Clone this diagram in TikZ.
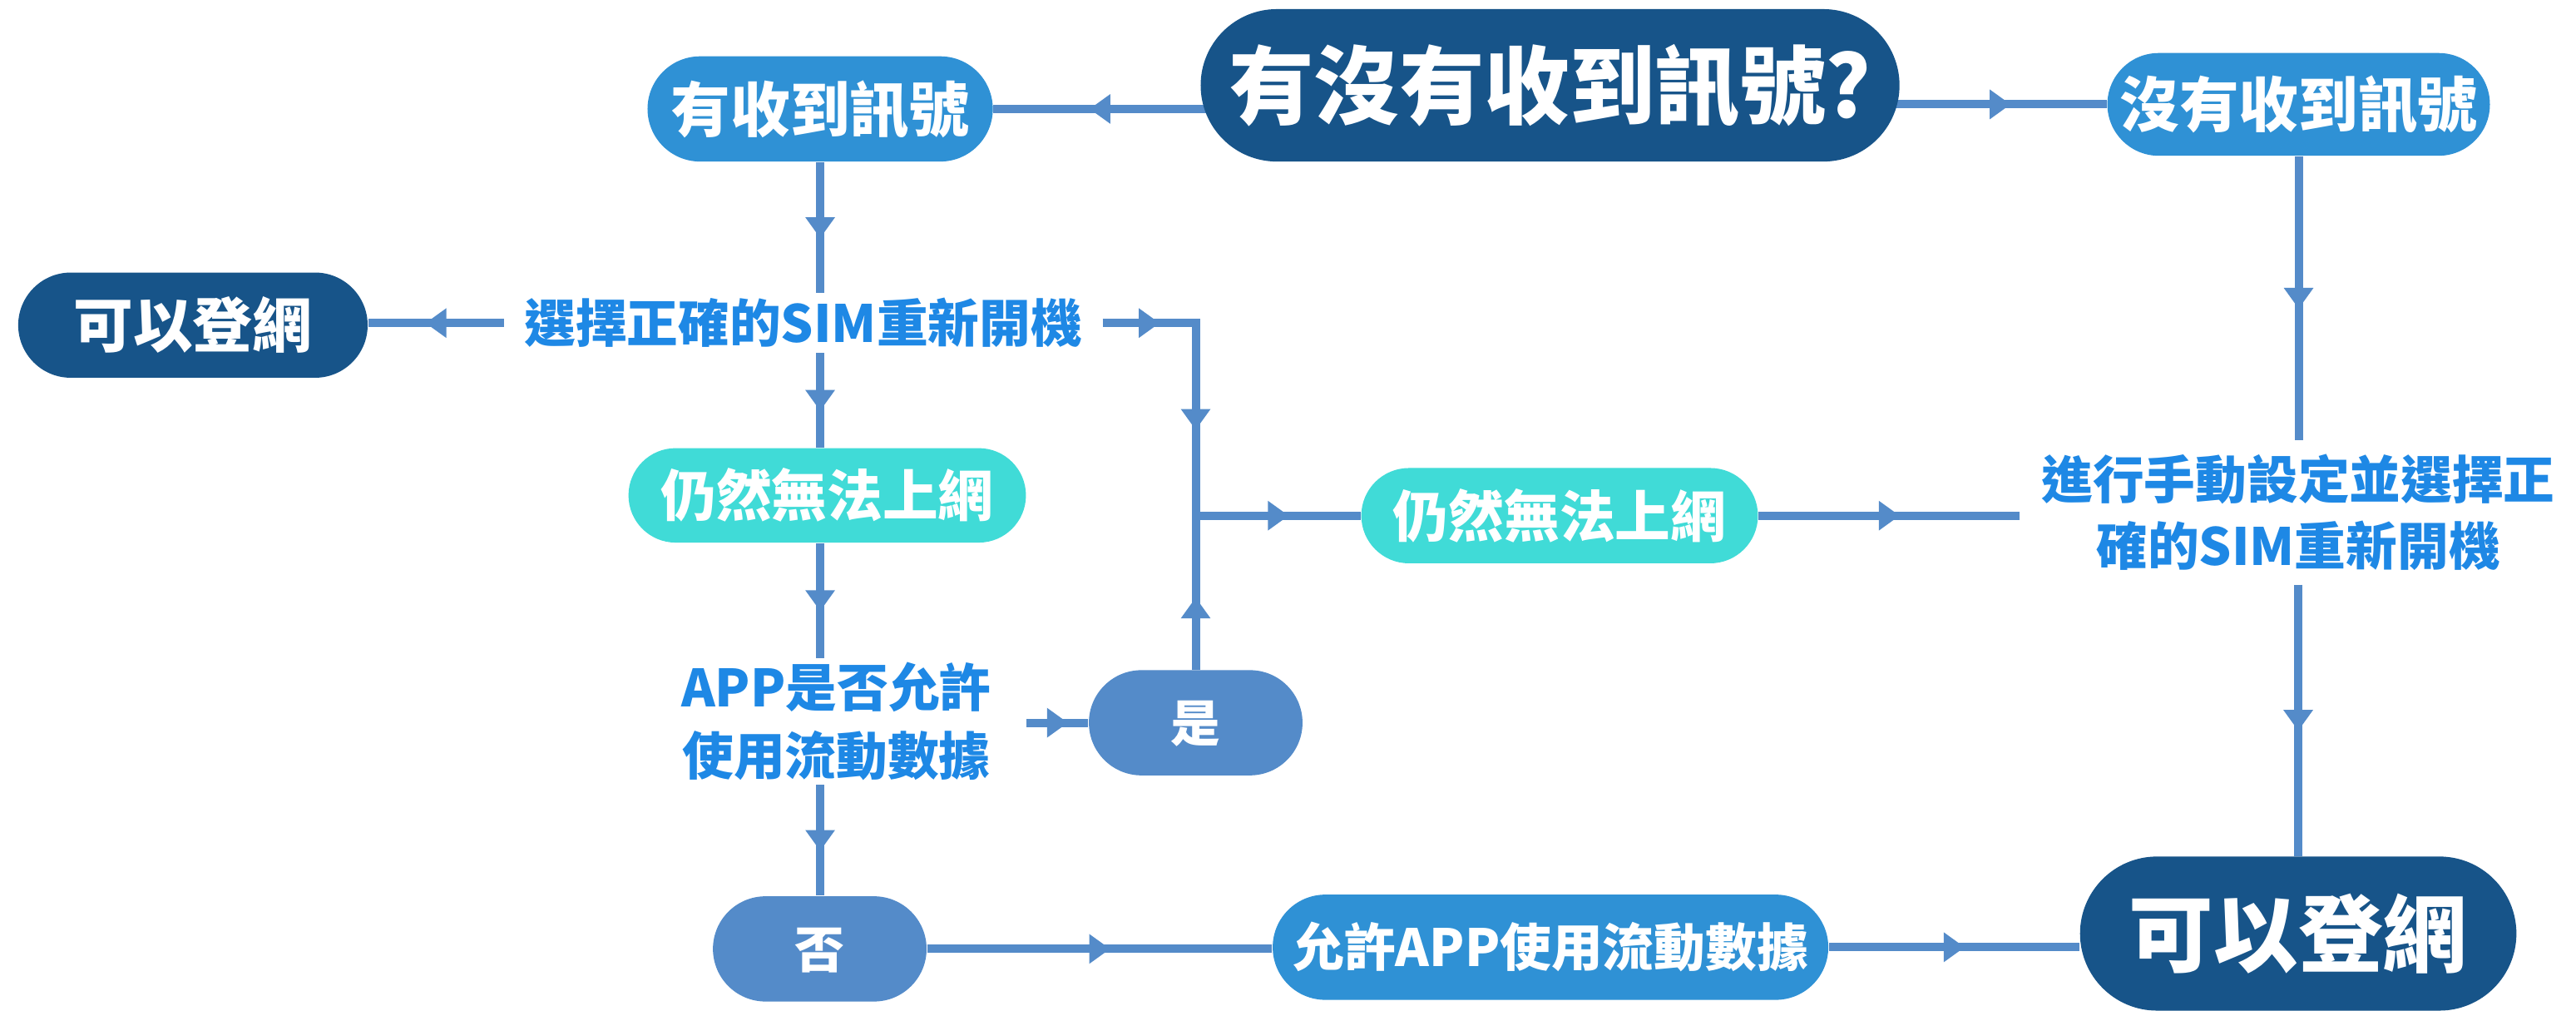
\documentclass[tikz,border=0pt]{standalone}
\usepackage{fontspec}
\newfontfamily\cjk{Noto Sans CJK TC}
\usetikzlibrary{calc,decorations.markings}
\newdimen\px \px=0.3pt
\newcommand\fs[2]{\fontsize{\the\dimexpr#1\px\relax}{\the\dimexpr#2\px\relax}\selectfont}
\definecolor{navy}{HTML}{175489}
\definecolor{midblue}{HTML}{2F91D5}
\definecolor{cyanbox}{HTML}{40DBD7}
\definecolor{steel}{HTML}{548BC9}
\definecolor{txtblue}{HTML}{1E88E5}
\pgfdeclarelayer{back}
\pgfdeclarelayer{bg}
\pgfsetlayers{back,bg,main}
\tikzset{
  pill/.style n args={3}{shape=rectangle, inner sep=0pt, minimum width=#1\px,
    minimum height=#2\px, rounded corners=#3\px, text=white},
  cjkline/.style={font=\cjk\bfseries\fs{#1}{#1}, text height=0.88*#1*0.3pt, text depth=0.12*#1*0.3pt},
  conn/.style={draw=steel, line width=10\px, line join=miter},
  midarrow/.style={postaction={decorate,decoration={markings,
    mark=at position #1 with {\fill[steel] (-12.5\px,-18\px) -- (12.5\px,0pt) -- (-12.5\px,18\px) -- cycle;}}}},
  midarrow/.default=0.5,
  bluetext/.style={text=txtblue, inner sep=0pt, align=center}
}
\begin{document}
\begin{tikzpicture}[x=0.3pt,y=-0.3pt]
\begin{pgfonlayer}{back}
\path[use as bounding box, fill=white] (0,0) rectangle (3097,1211);
\end{pgfonlayer}

% nodes
\node[pill={844}{184}{92}, fill=navy, cjkline=103] (title) at (1872,103) {有沒有收到訊號?};
\node[pill={417}{127}{63.5}, fill=midblue, cjkline=72] (yes) at (990.5,131.5) {有收到訊號};
\node[pill={462}{124}{62}, fill=midblue, cjkline=72] (no) at (2776,126) {沒有收到訊號};
\node[pill={422}{127}{63.5}, fill=navy, cjkline=72] (okL) at (233,392.5) {可以登網};
\node[bluetext, cjkline=62, inner xsep=24\px, minimum height=71\px] (sel) at (970,390) {選擇正確的SIM重新開機};
\node[pill={480}{114}{57}, fill=cyanbox, cjkline=67] (cyL) at (999,598) {仍然無法上網};
\node[bluetext, minimum width=458\px, minimum height=152\px, font=\cjk\bfseries\fs{62}{82}] (app) at (1010,871) {APP是否允許\\使用流動數據};
\node[pill={258}{127}{63.5}, fill=steel, cjkline=60] (shi) at (1444,872.5) {是};
\node[pill={258}{127}{63.5}, fill=steel, cjkline=60] (fou) at (990,1145.5) {否};
\node[pill={671}{127}{63.5}, fill=midblue, cjkline=62] (allow) at (1872.5,1143.5) {允許APP使用流動數據};
\node[pill={479}{115}{57.5}, fill=cyanbox, cjkline=67] (cyM) at (1883.5,622.5) {仍然無法上網};
\node[bluetext, minimum width=671\px, minimum height=173\px, font=\cjk\bfseries\fs{62}{81}] (man) at (2775.5,618.5) {進行手動設定並選擇正\\確的SIM重新開機};
\node[pill={527}{186}{93}, fill=navy, cjkline=102] (okR) at (2775.5,1127) {可以登網};

\coordinate (c1) at (shi.north |- sel.east);
\coordinate (j) at (shi.north |- cyM.west);

% connectors
\begin{pgfonlayer}{bg}
\draw[conn, midarrow] ($(title.west |- yes.east)+(8,0)$) -- (yes.east);
\draw[conn, midarrow] ($(title.east |- no.west)+(-8,0)$) -- (no.west);
\draw[conn, midarrow] (yes.south) -- (yes.south |- sel.north);
\draw[conn, midarrow] (sel.west) -- (sel.west -| okL.east);
\draw[conn, midarrow] (sel.south -| yes.south) -- (cyL.north -| yes.south);
\draw[conn, midarrow] (cyL.south -| yes.south) -- (app.north -| yes.south);
\draw[conn, midarrow] (app.south -| yes.south) -- (fou.north -| yes.south);
\draw[conn, midarrow] (app.east |- shi.west) -- (shi.west);
\draw[conn] (sel.east) -- (c1) -- (j) -- (cyM.west);
\path[midarrow] (sel.east) -- (c1);
\path[midarrow] (c1) -- (j);
\path[midarrow] (j) -- (cyM.west);
\draw[conn, midarrow=0.4] (shi.north) -- (j);
\draw[conn, midarrow] (fou.east) -- (fou.east -| allow.west);
\draw[conn, midarrow] (allow.east) -- (allow.east -| okR.west);
\draw[conn, midarrow] (cyM.east) -- (cyM.east -| man.west);
\draw[conn, midarrow] (no.south) -- (no.south |- man.north);
\draw[conn, midarrow] (man.south) -- (man.south |- okR.north);
\end{pgfonlayer}
\end{tikzpicture}
\end{document}
